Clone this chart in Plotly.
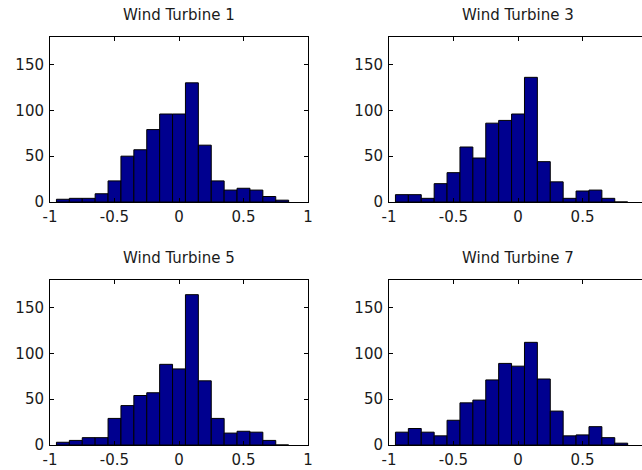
import plotly.graph_objects as go

# Bin centres (width 0.1) shared by all histograms
bin_centers = [-0.9, -0.8, -0.7, -0.6, -0.5, -0.4, -0.3, -0.2, -0.1, 0.0,
               0.1, 0.2, 0.3, 0.4, 0.5, 0.6, 0.7, 0.8]
bin_width = 0.1

titles = ["Wind Turbine 1", "Wind Turbine 3", "Wind Turbine 5", "Wind Turbine 7"]

counts_wt1 = [3, 4, 4, 9, 23, 50, 57, 79, 96, 96, 130, 62, 23, 13, 15, 13, 6, 2]
counts_wt3 = [8, 8, 4, 20, 32, 60, 48, 86, 89, 96, 136, 44, 22, 4, 12, 13, 4, 0]
counts_wt5 = [3, 5, 8, 8, 29, 43, 54, 57, 88, 83, 164, 70, 29, 13, 15, 14, 5, 0]
counts_wt7 = [14, 18, 14, 10, 27, 46, 49, 71, 89, 86, 112, 72, 37, 10, 11, 20, 8, 2]

x_tickvals = [-1, -0.5, 0, 0.5, 1]
x_ticktext = ["-1", "-0.5", "0", "0.5", "1"]
y_tickvals = [0, 50, 100, 150]
y_ticktext = ["0", "50", "100", "150"]
y_range = [0, 180]

W, H = 642, 470
# panel pixel boxes (left, right, top, bottom)
boxes = [(50, 308, 37, 202), (389, 642, 37, 202),
         (50, 308, 280, 445), (389, 642, 280, 445)]
# right-hand panels are cropped at the picture edge
x_ranges = [[-1, 1], [-1, 0.961], [-1, 1], [-1, 0.961]]
series = [counts_wt1, counts_wt3, counts_wt5, counts_wt7]

fig = go.Figure()
font = dict(family="DejaVu Sans", size=15, color="#1a1a1a")
annotations = []
for i, (cnt, box, xr, title) in enumerate(zip(series, boxes, x_ranges, titles)):
    n = "" if i == 0 else str(i + 1)
    l, r, t, b = box
    fig.add_trace(go.Bar(x=bin_centers, y=cnt, width=bin_width,
                         marker=dict(color="#00008F", line=dict(color="#000000", width=1)),
                         xaxis="x" + n, yaxis="y" + n, showlegend=False, hoverinfo="skip"))
    dom_x = [l / W, r / W]
    dom_y = [1 - b / H, 1 - t / H]
    cropped = xr[1] < 1
    fig.layout["xaxis" + n] = dict(
        domain=dom_x, range=xr, anchor="y" + n, tickvals=x_tickvals, ticktext=x_ticktext,
        ticks="inside", ticklen=4, tickcolor="#000000", showline=True, linecolor="#000000",
        linewidth=1, mirror="ticks", showgrid=False, zeroline=False, tickfont=font,
        ticklabelstandoff=1, automargin=False, fixedrange=True)
    fig.layout["yaxis" + n] = dict(
        domain=dom_y, range=y_range, anchor="x" + n, tickvals=y_tickvals, ticktext=y_ticktext,
        ticks="inside", ticklen=4, tickcolor="#000000", showline=True, linecolor="#000000",
        linewidth=1, mirror=False if cropped else "ticks", showgrid=False, zeroline=False,
        tickfont=font, ticklabelstandoff=2, automargin=False, fixedrange=True)
    annotations.append(dict(text=title, x=(l + 129) / W,
                            y=1 - (t - 22) / H, xref="paper", yref="paper",
                            showarrow=False, xanchor="center", yanchor="middle",
                            font=dict(family="DejaVu Sans", size=15, color="#1a1a1a")))

fig.update_layout(width=W, height=H, margin=dict(l=0, r=0, t=0, b=0),
                  paper_bgcolor="white", plot_bgcolor="white",
                  annotations=annotations, showlegend=False)
fig.write_html("out.html", config={"displayModeBar": False},
               post_script="document.body.style.margin='0';document.body.style.overflow='hidden';")
